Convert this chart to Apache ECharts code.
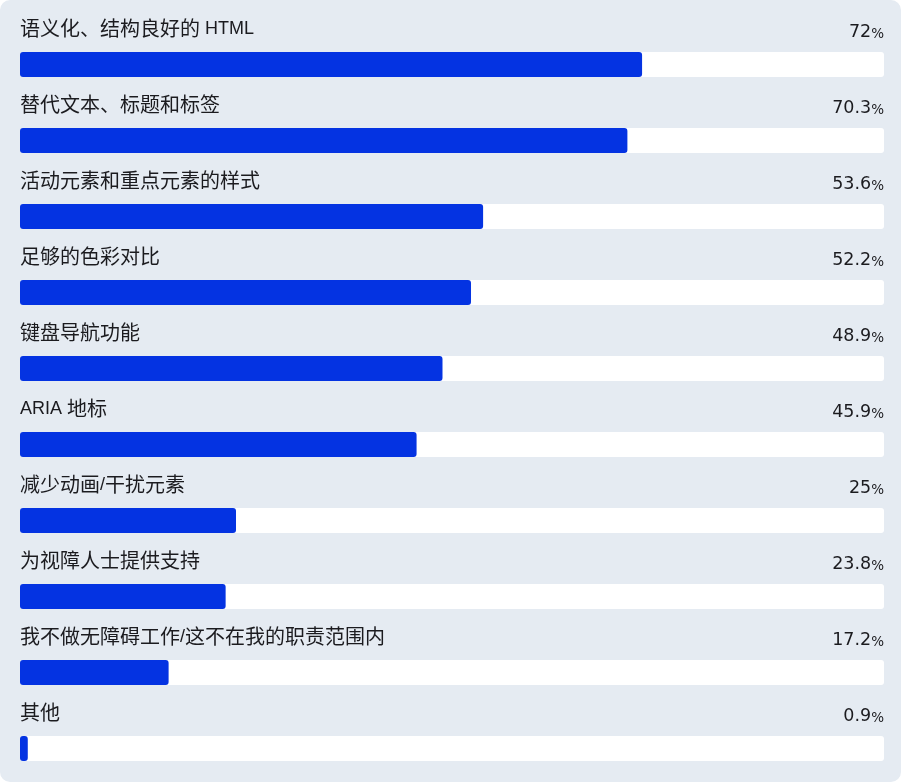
<!DOCTYPE html>
<html>
<head>
<meta charset="utf-8">
<script src="https://cdn.jsdelivr.net/npm/echarts@6/dist/echarts.min.js"></script>
<style>
  html, body { margin: 0; padding: 0; background: #ffffff; }
  #chart { width: 901px; height: 782px; background: #e5ebf2; border-radius: 10px; overflow: hidden; }
</style>
</head>
<body>
<div id="chart"></div>
<script>
const categories = [
  '语义化、结构良好的 HTML',
  '替代文本、标题和标签',
  '活动元素和重点元素的样式',
  '足够的色彩对比',
  '键盘导航功能',
  'ARIA 地标',
  '减少动画/干扰元素',
  '为视障人士提供支持',
  '我不做无障碍工作/这不在我的职责范围内',
  '其他'
];
const values = [72, 70.3, 53.6, 52.2, 48.9, 45.9, 25, 23.8, 17.2, 0.9];
const axisMax = 100;

const latinFont = "'Liberation Sans', sans-serif";
const cjkFont = "'Noto Sans CJK SC', sans-serif";
const numFont = "'DejaVu Sans', sans-serif";
const textColor = '#1b1b1f';

// split a label into Latin / CJK runs for rich text
function richLabel(s) {
  const runs = s.match(/[\x00-\x7F]+|[^\x00-\x7F]+/g) || [];
  return runs.map(r => (/^[\x00-\x7F]+$/.test(r) ? '{a|' : '{c|') + r + '}').join('');
}

const chart = echarts.init(document.getElementById('chart'), null, { renderer: 'canvas' });
chart.setOption({
  backgroundColor: 'transparent',
  animation: false,
  grid: { left: 20, right: 17, top: 64.5, bottom: 33.5 },
  xAxis: { type: 'value', min: 0, max: axisMax, show: false },
  yAxis: {
    type: 'category',
    data: categories,
    inverse: true,
    boundaryGap: false,
    show: false
  },
  series: [
    {
      name: 'track',
      type: 'bar',
      data: categories.map(() => axisMax),
      barWidth: 25,
      barGap: '-100%',
      silent: true,
      itemStyle: { color: '#ffffff', borderRadius: 3 },
      label: {
        show: true,
        position: ['100%', -21.5],
        align: 'right',
        verticalAlign: 'middle',
        formatter: (p) => '{v|' + values[p.dataIndex] + '}{p|%}',
        rich: {
          v: { fontSize: 17.5, fontFamily: numFont, color: textColor, lineHeight: 21, verticalAlign: 'bottom' },
          p: { fontSize: 13.5, fontFamily: numFont, color: textColor, lineHeight: 16.5, verticalAlign: 'bottom' }
        }
      },
      z: 1
    },
    {
      name: 'value',
      type: 'bar',
      data: values,
      barWidth: 25,
      barGap: '-100%',
      itemStyle: { color: '#0433e2', borderRadius: 3 },
      label: {
        show: true,
        position: [0, -25.5],
        align: 'left',
        verticalAlign: 'middle',
        formatter: (p) => richLabel(categories[p.dataIndex]),
        rich: {
          a: { fontSize: 18, fontFamily: latinFont, color: textColor, lineHeight: 22, verticalAlign: 'bottom' },
          c: { fontSize: 20, fontFamily: cjkFont, color: textColor, lineHeight: 24, verticalAlign: 'bottom' }
        }
      },
      z: 2
    }
  ]
});
</script>
</body>
</html>
